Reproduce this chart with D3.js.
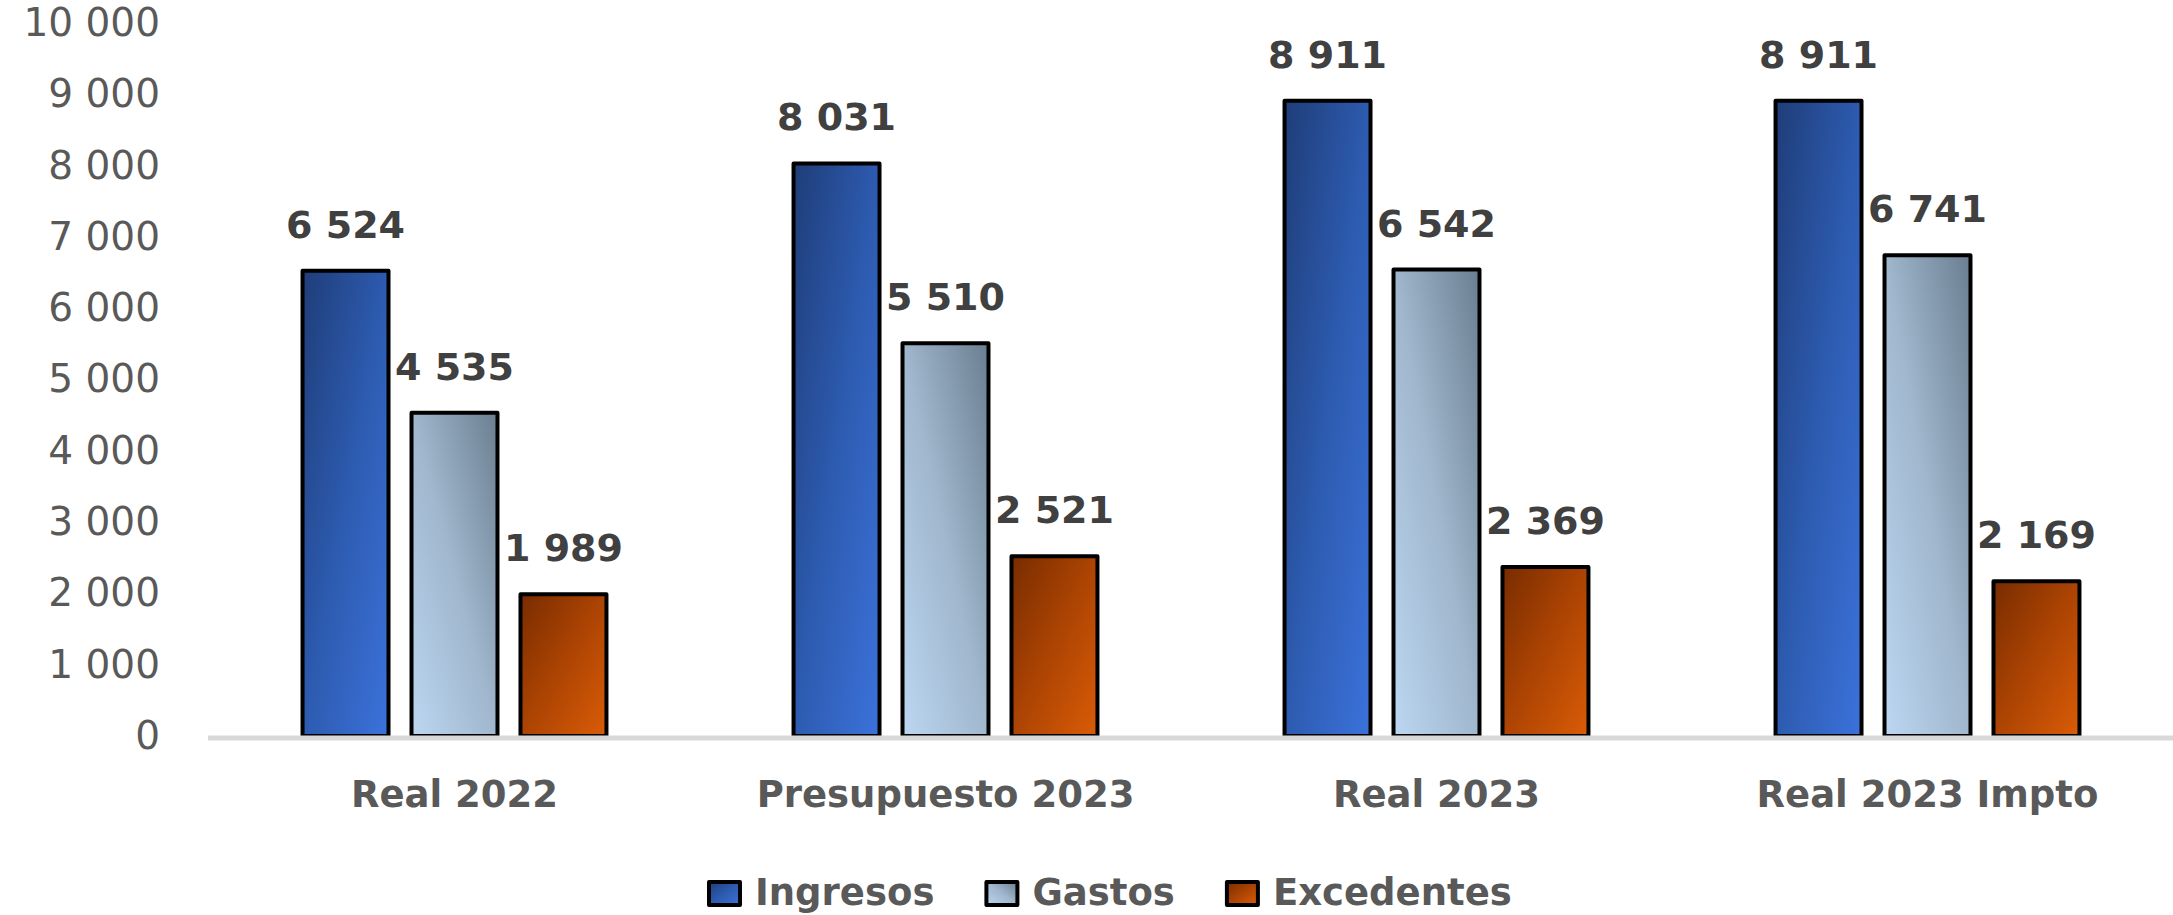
<!DOCTYPE html>
<html>
<head>
<meta charset="utf-8">
<script src="https://cdn.jsdelivr.net/npm/d3@7"></script>
<style>
  html, body { margin: 0; padding: 0; background: #ffffff; }
  svg { display: block; }
</style>
</head>
<body>
<svg id="chart" width="2173" height="915"></svg>
<script>
// ---- data ----
const categories = ["Real 2022", "Presupuesto 2023", "Real 2023", "Real 2023 Impto"];
const seriesNames = ["Ingresos", "Gastos", "Excedentes"];
const ingresos = [6524, 8031, 8911, 8911];
const gastos = [4535, 5510, 6542, 6741];
const excedentes = [1989, 2521, 2369, 2169];
const yTicks = [0, 1000, 2000, 3000, 4000, 5000, 6000, 7000, 8000, 9000, 10000];

const seriesValues = { Ingresos: ingresos, Gastos: gastos, Excedentes: excedentes };
const rows = categories.map((c, i) => ({
  cat: c,
  vals: seriesNames.map(s => ({ key: s, value: seriesValues[s][i] }))
}));

// ---- styles ----
const W = 2173, H = 915;
const svg = d3.select("#chart");
svg.append("rect").attr("width", W).attr("height", H).attr("fill", "#fff");

const defs = svg.append("defs");
function grad(id, x1, y1, x2, y2, stops) {
  const g = defs.append("linearGradient").attr("id", id)
    .attr("x1", x1).attr("y1", y1).attr("x2", x2).attr("y2", y2);
  stops.forEach(([o, c]) => g.append("stop").attr("offset", o).attr("stop-color", c));
}
grad("g-Ingresos", 0, 0, 1, 1, [[0, "#1f3d78"], [0.5, "#2d5bb0"], [1, "#3b72db"]]);
grad("g-Gastos", 0, 1, 1, 0, [[0, "#bcd7f2"], [0.5, "#a0b7cd"], [1, "#6a7e90"]]);
grad("g-Excedentes", 0, 0, 1, 1, [[0, "#782c00"], [0.5, "#ad4403"], [1, "#da5c07"]]);

// ---- scales ----
const y = d3.scaleLinear().domain([0, 10000]).range([736, 23]);
const x0 = d3.scaleBand().domain(categories).range([209, 2173])
  .paddingInner(0.381).paddingOuter(0.1905);
const x1 = d3.scaleBand().domain(seriesNames).range([0, x0.bandwidth()]).paddingInner(0.211);

const loc = d3.formatLocale({ decimal: ",", thousands: " ", grouping: [3], currency: ["", ""] });
const fmt = loc.format(",d");

// ---- y axis ----
const yAxis = svg.append("g").attr("transform", "translate(160,0)")
  .call(d3.axisLeft(y).tickValues(yTicks).tickSize(0).tickPadding(0).tickFormat(fmt));
yAxis.select(".domain").remove();
yAxis.selectAll("text")
  .attr("font-family", "DejaVu Sans").attr("font-size", 39).attr("fill", "#595959");

// ---- bars ----
const groups = svg.append("g").selectAll("g").data(rows).join("g")
  .attr("transform", d => `translate(${x0(d.cat)},0)`);

groups.selectAll("rect").data(d => d.vals).join("rect")
  .attr("x", d => x1(d.key))
  .attr("y", d => y(d.value))
  .attr("width", x1.bandwidth())
  .attr("height", d => y(0) - y(d.value))
  .attr("fill", d => `url(#g-${d.key})`)
  .attr("stroke", "#000").attr("stroke-width", 4).attr("stroke-linejoin", "round");

groups.selectAll("text").data(d => d.vals).join("text")
  .attr("x", d => x1(d.key) + x1.bandwidth() / 2)
  .attr("y", d => y(d.value) - 33)
  .attr("text-anchor", "middle")
  .attr("font-family", "DejaVu Sans").attr("font-weight", "bold").attr("font-size", 38)
  .attr("fill", "#404040")
  .text(d => fmt(d.value));

// ---- baseline ----
svg.append("line").attr("x1", 208).attr("x2", W).attr("y1", y(0) + 2).attr("y2", y(0) + 2)
  .attr("stroke", "#d9d9d9").attr("stroke-width", 5);

// ---- x axis labels ----
const xAxis = svg.append("g").attr("transform", "translate(0,807)")
  .call(d3.axisBottom(x0).tickSize(0).tickPadding(0));
xAxis.select(".domain").remove();
xAxis.selectAll("text")
  .attr("y", 0).attr("dy", null)
  .attr("font-family", "DejaVu Sans").attr("font-weight", "bold").attr("font-size", 37)
  .attr("fill", "#595959");

// ---- legend ----
const legend = svg.append("g").attr("transform", "translate(709,0)");
let lx = 0;
seriesNames.forEach(s => {
  const g = legend.append("g").attr("transform", `translate(${lx},0)`);
  g.append("rect").attr("x", 0).attr("y", 882).attr("width", 31).attr("height", 23)
    .attr("fill", `url(#g-${s})`).attr("stroke", "#000").attr("stroke-width", 4)
    .attr("stroke-linejoin", "round");
  const t = g.append("text").attr("x", 46).attr("y", 905)
    .attr("font-family", "DejaVu Sans").attr("font-weight", "bold").attr("font-size", 37)
    .attr("fill", "#595959").text(s);
  lx += 46 + t.node().getComputedTextLength() + 52;
});
</script>
</body>
</html>
